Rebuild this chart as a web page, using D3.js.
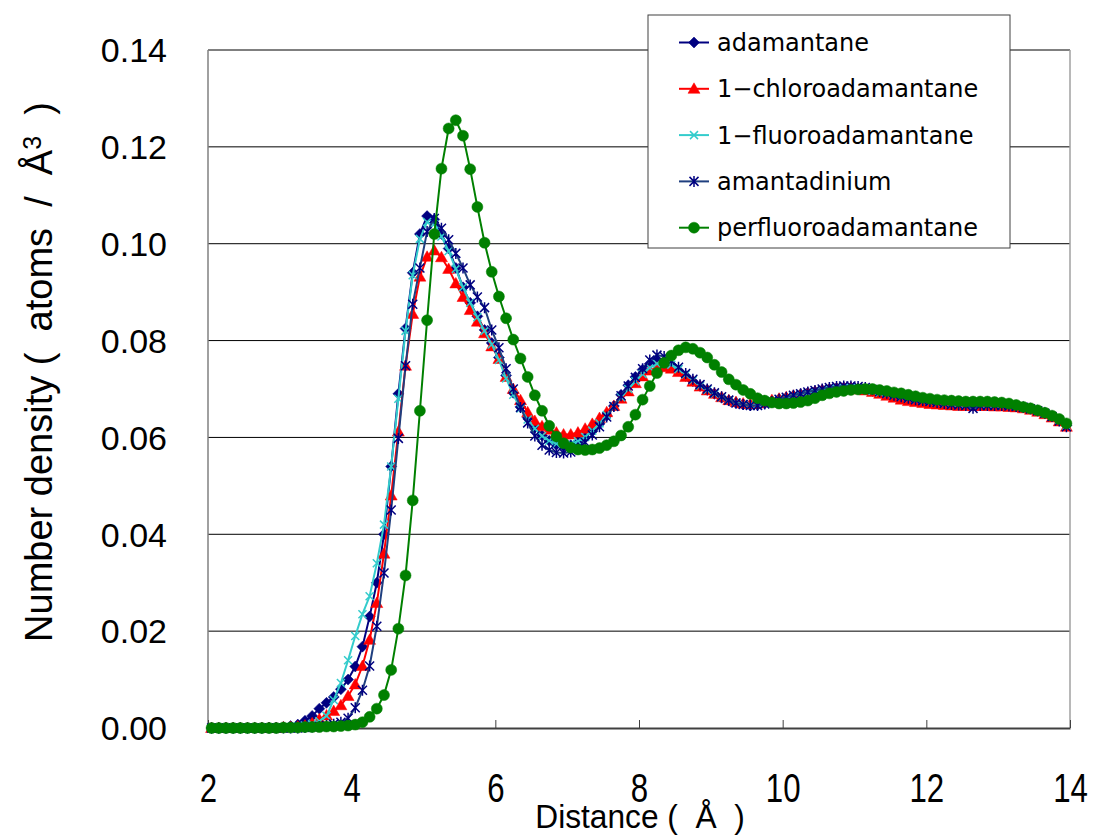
<!DOCTYPE html>
<html>
<head>
<meta charset="utf-8">
<script src="https://cdn.jsdelivr.net/npm/d3@7/dist/d3.min.js"></script>
<style>
  body { margin: 0; background: #fff; }
  svg { display: block; }
</style>
</head>
<body>
<svg id="chart" width="1093" height="836"></svg>
<script>
// sample positions (bin centres, 0.1 Å apart)
const distance = d3.range(120).map(i => +(2.05 + i * 0.1).toFixed(2));

// one row per Å, 10 values each
const adamantane = [
  0, 0, 0, 0, 0, 0, 0, 0, 0.0001, 0.0001,
  0.0002, 0.0004, 0.0007, 0.0015, 0.0025, 0.0040, 0.0052, 0.0064, 0.0080, 0.0100,
  0.0127, 0.0168, 0.0230, 0.0300, 0.0400, 0.0540, 0.0690, 0.0825, 0.0940, 0.1020,
  0.1057, 0.1050, 0.1020, 0.0990, 0.0950, 0.0910, 0.0878, 0.0850, 0.0822, 0.0795,
  0.0765, 0.0728, 0.0692, 0.0663, 0.0641, 0.0620, 0.0604, 0.0593, 0.0585, 0.0582,
  0.0584, 0.0590, 0.0600, 0.0613, 0.0628, 0.0645, 0.0665, 0.0688, 0.0708, 0.0725,
  0.0740, 0.0752, 0.0758, 0.0755, 0.0748, 0.0738, 0.0727, 0.0716, 0.0706, 0.0698,
  0.0690, 0.0682, 0.0676, 0.0671, 0.0668, 0.0666, 0.0667, 0.0670, 0.0675, 0.0679,
  0.0682, 0.0686, 0.0689, 0.0692, 0.0695, 0.0698, 0.0700, 0.0702, 0.0703, 0.0703,
  0.0701, 0.0699, 0.0696, 0.0693, 0.0690, 0.0687, 0.0684, 0.0681, 0.0679, 0.0677,
  0.0675, 0.0673, 0.0671, 0.0670, 0.0669, 0.0668, 0.0668, 0.0667, 0.0667, 0.0667,
  0.0667, 0.0666, 0.0665, 0.0663, 0.0660, 0.0656, 0.0651, 0.0644, 0.0636, 0.0625
];

const chloroadamantane = [
  0, 0, 0, 0, 0, 0, 0, 0, 0, 0,
  0.0001, 0.0002, 0.0003, 0.0005, 0.0010, 0.0018, 0.0026, 0.0035, 0.0047, 0.0066,
  0.0090, 0.0128, 0.0182, 0.0258, 0.0360, 0.0480, 0.0612, 0.0748, 0.0855, 0.0932,
  0.0973, 0.0986, 0.0972, 0.0948, 0.0918, 0.0890, 0.0863, 0.0839, 0.0815, 0.0788,
  0.0762, 0.0725, 0.0700, 0.0677, 0.0652, 0.0634, 0.0623, 0.0616, 0.0610, 0.0606,
  0.0606, 0.0610, 0.0618, 0.0628, 0.0640, 0.0652, 0.0665, 0.0680, 0.0695, 0.0712,
  0.0726, 0.0738, 0.0744, 0.0745, 0.0742, 0.0735, 0.0725, 0.0715, 0.0705, 0.0697,
  0.0690, 0.0683, 0.0677, 0.0673, 0.0670, 0.0669, 0.0670, 0.0673, 0.0677, 0.0680,
  0.0683, 0.0686, 0.0688, 0.0691, 0.0694, 0.0697, 0.0699, 0.0701, 0.0702, 0.0702,
  0.0699, 0.0697, 0.0694, 0.0690, 0.0686, 0.0682, 0.0678, 0.0675, 0.0673, 0.0671,
  0.0669, 0.0668, 0.0667, 0.0666, 0.0665, 0.0665, 0.0665, 0.0665, 0.0665, 0.0664,
  0.0664, 0.0663, 0.0662, 0.0660, 0.0657, 0.0653, 0.0648, 0.0641, 0.0633, 0.0622
];

const fluoroadamantane = [
  0, 0, 0, 0, 0, 0, 0, 0, 0.0001, 0.0001,
  0.0001, 0.0002, 0.0003, 0.0005, 0.0008, 0.0014, 0.0025, 0.0058, 0.0093, 0.0140,
  0.0190, 0.0235, 0.0272, 0.0340, 0.0420, 0.0540, 0.0680, 0.0820, 0.0935, 0.1010,
  0.1045, 0.1040, 0.1015, 0.0985, 0.0948, 0.0910, 0.0878, 0.0848, 0.0820, 0.0792,
  0.0760, 0.0722, 0.0688, 0.0660, 0.0637, 0.0618, 0.0603, 0.0593, 0.0587, 0.0585,
  0.0587, 0.0592, 0.0601, 0.0614, 0.0629, 0.0646, 0.0664, 0.0683, 0.0700, 0.0716,
  0.0731, 0.0744, 0.0752, 0.0754, 0.0750, 0.0741, 0.0730, 0.0718, 0.0707, 0.0698,
  0.0690, 0.0683, 0.0677, 0.0672, 0.0669, 0.0667, 0.0668, 0.0671, 0.0675, 0.0679,
  0.0682, 0.0686, 0.0689, 0.0692, 0.0695, 0.0698, 0.0700, 0.0701, 0.0702, 0.0702,
  0.0701, 0.0699, 0.0696, 0.0693, 0.0690, 0.0687, 0.0684, 0.0681, 0.0678, 0.0676,
  0.0674, 0.0672, 0.0670, 0.0669, 0.0668, 0.0668, 0.0667, 0.0667, 0.0667, 0.0667,
  0.0666, 0.0665, 0.0664, 0.0662, 0.0659, 0.0655, 0.0650, 0.0643, 0.0635, 0.0624
];

const amantadinium = [
  0, 0, 0, 0, 0, 0, 0, 0, 0, 0,
  0, 0, 0, 0.0001, 0.0002, 0.0003, 0.0005, 0.0008, 0.0012, 0.0020,
  0.0042, 0.0078, 0.0128, 0.0210, 0.0320, 0.0450, 0.0598, 0.0748, 0.0875, 0.0950,
  0.1025, 0.1052, 0.1032, 0.1008, 0.0980, 0.0950, 0.0915, 0.0890, 0.0868, 0.0822,
  0.0785, 0.0742, 0.0700, 0.0662, 0.0630, 0.0603, 0.0584, 0.0574, 0.0569, 0.0568,
  0.0570, 0.0578, 0.0590, 0.0605, 0.0622, 0.0642, 0.0664, 0.0686, 0.0706, 0.0724,
  0.0742, 0.0760, 0.0770, 0.0767, 0.0758, 0.0745, 0.0732, 0.0720, 0.0709, 0.0700,
  0.0692, 0.0684, 0.0677, 0.0671, 0.0668, 0.0666, 0.0666, 0.0669, 0.0674, 0.0679,
  0.0683, 0.0687, 0.0690, 0.0694, 0.0697, 0.0700, 0.0703, 0.0705, 0.0706, 0.0706,
  0.0705, 0.0703, 0.0699, 0.0695, 0.0691, 0.0687, 0.0684, 0.0681, 0.0678, 0.0676,
  0.0674, 0.0672, 0.0670, 0.0668, 0.0667, 0.0666, 0.0660, 0.0666, 0.0666, 0.0666,
  0.0666, 0.0665, 0.0664, 0.0662, 0.0659, 0.0655, 0.0650, 0.0643, 0.0634, 0.0622
];

const perfluoroadamantane = [
  0, 0, 0, 0, 0, 0, 0, 0, 0, 0,
  0.0001, 0.0001, 0.0001, 0.0002, 0.0002, 0.0002, 0.0003, 0.0003, 0.0004, 0.0005,
  0.0007, 0.0012, 0.0023, 0.0040, 0.0068, 0.0120, 0.0205, 0.0315, 0.0470, 0.0655,
  0.0842, 0.1020, 0.1155, 0.1238, 0.1255, 0.1223, 0.1154, 0.1076, 0.1002, 0.0942,
  0.0891, 0.0846, 0.0802, 0.0763, 0.0725, 0.0687, 0.0655, 0.0624, 0.0602, 0.0588,
  0.0579, 0.0575, 0.0574, 0.0575, 0.0578, 0.0584, 0.0592, 0.0604, 0.0622, 0.0647,
  0.0678, 0.0706, 0.0733, 0.0754, 0.0769, 0.0780, 0.0786, 0.0783, 0.0775, 0.0765,
  0.0750, 0.0735, 0.0720, 0.0709, 0.0698, 0.0690, 0.0681, 0.0676, 0.0672, 0.0670,
  0.0670, 0.0671, 0.0673, 0.0676, 0.0681, 0.0687, 0.0691, 0.0694, 0.0696, 0.0698,
  0.0699, 0.0700, 0.0700, 0.0698, 0.0696, 0.0693, 0.0691, 0.0688, 0.0685, 0.0682,
  0.0680, 0.0678, 0.0677, 0.0676, 0.0675, 0.0674, 0.0674, 0.0674, 0.0674, 0.0673,
  0.0672, 0.0670, 0.0667, 0.0663, 0.0660, 0.0656, 0.0651, 0.0645, 0.0638, 0.0629
];

const seriesNames = ['adamantane', '1\u2212chloroadamantane', '1\u2212fluoroadamantane', 'amantadinium', 'perfluoroadamantane'];
const yTicks = [0, 0.02, 0.04, 0.06, 0.08, 0.10, 0.12, 0.14];
const xTicks = [2, 4, 6, 8, 10, 12, 14];

// marker shapes, centred on 0,0
const markerPaths = {
  diamond: 'M0,-5.5L5.5,0L0,5.5L-5.5,0Z',
  triangle: 'M0,-6L6,4.5L-6,4.5Z',
  circle: d3.symbol(d3.symbolCircle, 95)(),
  cross: 'M-4,-4L4,4M-4,4L4,-4',
  star: 'M-4.5,-4.5L4.5,4.5M-4.5,4.5L4.5,-4.5M0,-5.5L0,5.5'
};

const series = [
  { name: seriesNames[0], values: adamantane, line: '#000080', mark: '#000080', shape: 'diamond', filled: true },
  { name: seriesNames[1], values: chloroadamantane, line: '#ff0000', mark: '#ff0000', shape: 'triangle', filled: true },
  { name: seriesNames[2], values: fluoroadamantane, line: '#33cccc', mark: '#33cccc', shape: 'cross', filled: false },
  { name: seriesNames[3], values: amantadinium, line: '#1f3f7f', mark: '#000080', shape: 'star', filled: false },
  { name: seriesNames[4], values: perfluoroadamantane, line: '#008000', mark: '#008000', shape: 'circle', filled: true }
];

const titleFont = '"Liberation Sans", Arial, sans-serif';

const svg = d3.select('#chart');
const margin = { left: 208, right: 1070, top: 50, bottom: 728 };

const x = d3.scaleLinear().domain([2, 14]).range([margin.left, margin.right]);
const y = d3.scaleLinear().domain([0, 0.14]).range([margin.bottom, margin.top]);

// gridlines
svg.append('g')
  .selectAll('line')
  .data(yTicks.filter(d => d > 0))
  .enter()
  .append('line')
  .attr('x1', margin.left)
  .attr('x2', margin.right)
  .attr('y1', d => y(d))
  .attr('y2', d => y(d))
  .attr('stroke', '#000')
  .attr('stroke-width', 1);

// plot frame: left and right sides gray
svg.append('line')
  .attr('x1', margin.left).attr('x2', margin.left)
  .attr('y1', margin.top).attr('y2', margin.bottom)
  .attr('stroke', '#808080').attr('stroke-width', 1.5);
svg.append('line')
  .attr('x1', margin.right).attr('x2', margin.right)
  .attr('y1', margin.top).attr('y2', margin.bottom)
  .attr('stroke', '#a0a0a0').attr('stroke-width', 1.5);

// x axis with inward ticks
const xAxis = d3.axisBottom(x)
  .tickValues(xTicks)
  .tickSize(-8)
  .tickSizeOuter(0)
  .tickFormat(d3.format('d'));

const gx = svg.append('g')
  .attr('transform', `translate(0,${margin.bottom})`)
  .call(xAxis);
gx.select('.domain').attr('stroke', '#404040').attr('stroke-width', 2);
gx.selectAll('.tick line').attr('stroke', '#404040');
// narrow, tall digits
gx.selectAll('.tick text')
  .attr('y', 0)
  .attr('dy', 0)
  .attr('transform', 'translate(0,74) scale(0.78,1)')
  .style('font-family', titleFont)
  .style('font-size', '40px')
  .attr('fill', '#000');

// y tick labels
svg.append('g')
  .selectAll('text')
  .data(yTicks)
  .enter()
  .append('text')
  .attr('x', 167)
  .attr('y', d => y(d))
  .attr('dy', '0.36em')
  .attr('text-anchor', 'end')
  .style('font-family', titleFont)
  .style('font-size', '34px')
  .text(d3.format('.2f'));

// series: line then markers
const lineGen = d3.line()
  .x((d, i) => x(distance[i]))
  .y(d => y(d));

const plot = svg.append('g');
series.forEach(s => {
  const g = plot.append('g').attr('class', 'series');
  g.append('path')
    .datum(s.values)
    .attr('d', lineGen)
    .attr('fill', 'none')
    .attr('stroke', s.line)
    .attr('stroke-width', 2);
  g.selectAll('path.mark')
    .data(s.values)
    .enter()
    .append('path')
    .attr('class', 'mark')
    .attr('transform', (d, i) => `translate(${x(distance[i])},${y(d)})`)
    .attr('d', markerPaths[s.shape])
    .attr('fill', s.filled ? s.mark : 'none')
    .attr('stroke', s.mark)
    .attr('stroke-width', s.filled ? 0.5 : 1.5);
});

// legend
const legend = svg.append('g').attr('transform', 'translate(648,15)');
legend.append('rect')
  .attr('width', 362)
  .attr('height', 233)
  .attr('fill', '#fff')
  .attr('stroke', '#404040')
  .attr('stroke-width', 1);

const rows = legend.selectAll('g.row')
  .data(series)
  .enter()
  .append('g')
  .attr('class', 'row')
  .attr('transform', (d, i) => `translate(0,${27.5 + i * 46.3})`);

rows.append('line')
  .attr('x1', 31).attr('x2', 61)
  .attr('stroke', d => d.line)
  .attr('stroke-width', 2);
rows.append('path')
  .attr('transform', 'translate(46,0)')
  .attr('d', d => markerPaths[d.shape])
  .attr('fill', d => d.filled ? d.mark : 'none')
  .attr('stroke', d => d.mark)
  .attr('stroke-width', d => d.filled ? 0.5 : 1.5);
rows.append('text')
  .attr('x', 69)
  .attr('dy', '0.36em')
  .style('font-family', '"DejaVu Sans", sans-serif')
  .style('font-size', '24px')
  .text(d => d.name);

// axis titles
svg.append('text')
  .attr('transform', 'translate(640,828) scale(0.96,1)')
  .attr('text-anchor', 'middle')
  .style('font-family', titleFont)
  .style('font-size', '33px')
  .text('Distance\u00a0(\u00a0\u00a0Å\u00a0\u00a0)');

const yTitle = svg.append('text')
  .attr('transform', 'translate(52,372) rotate(-90)')
  .attr('text-anchor', 'middle')
  .style('font-family', titleFont)
  .style('font-size', '38px');
yTitle.append('tspan').text('Number density\u00a0(\u00a0\u00a0atoms\u00a0\u00a0/\u00a0\u00a0Å');
yTitle.append('tspan').attr('baseline-shift', '45%').style('font-size', '25px').text('3');
yTitle.append('tspan').text('\u00a0\u00a0)');
</script>
</body>
</html>
